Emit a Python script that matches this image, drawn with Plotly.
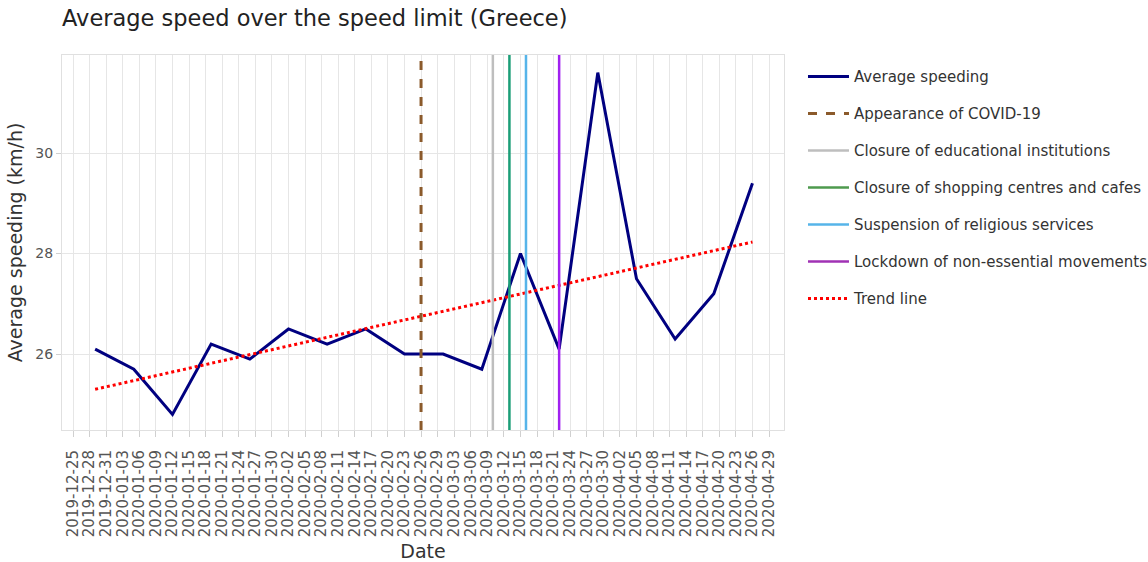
import plotly.graph_objects as go

# ---- data ----
dates = ["2019-12-29", "2020-01-05", "2020-01-12", "2020-01-19", "2020-01-26",
         "2020-02-02", "2020-02-09", "2020-02-16", "2020-02-23", "2020-03-01",
         "2020-03-08", "2020-03-15", "2020-03-22", "2020-03-29", "2020-04-05",
         "2020-04-12", "2020-04-19", "2020-04-26"]
avg_speeding = [26.1, 25.7, 24.8, 26.2, 25.9, 26.5, 26.2, 26.5, 26.0, 26.0,
                25.7, 28.0, 26.1, 31.6, 27.5, 26.3, 27.2, 29.4]

trend_dates = ["2019-12-29", "2020-04-26"]
trend_values = [25.3, 28.23]

event_names = ["Appearance of COVID-19", "Closure of educational institutions",
               "Closure of shopping centres and cafes", "Suspension of religious services",
               "Lockdown of non-essential movements"]
event_dates = ["2020-02-26", "2020-03-10", "2020-03-13", "2020-03-16", "2020-03-22"]
event_colors = ["#8B5A2B", "#BEBEBE", "#1B9E77", "#56B4E9", "#A020F0"]
legend_colors = ["#8B5A2B", "#BEBEBE", "#4E9A4E", "#56B4E9", "#A032B4"]
event_dash = ["dash", "solid", "solid", "solid", "solid"]
event_width = [3, 2.5, 2.5, 2.5, 2.5]

FONT = "DejaVu Sans"

fig = go.Figure()
fig.add_trace(go.Scatter(x=dates, y=avg_speeding, mode="lines", name="Average speeding",
                         line=dict(color="#000080", width=3), legendgroup="a"))

for i, (nm, d, c, lc, ds, w) in enumerate(zip(event_names, event_dates, event_colors,
                                               legend_colors, event_dash, event_width)):
    fig.add_shape(type="line", xref="x", yref="paper", x0=d, x1=d, y0=0, y1=1,
                  line=dict(color=c, width=w, dash=ds), layer="above")
    fig.add_trace(go.Scatter(x=[None], y=[None], mode="lines", name=nm,
                             line=dict(color=lc, width=w, dash=ds), legendgroup=f"e{i}"))

fig.add_trace(go.Scatter(x=trend_dates, y=trend_values, mode="lines", name="Trend line",
                         line=dict(color="#FF0000", width=3, dash="dot"), legendgroup="t"))

fig.update_layout(
    width=1148, height=562, autosize=False,
    paper_bgcolor="white", plot_bgcolor="white",
    font=dict(family=FONT, color="#333333"),
    margin=dict(l=62, r=364, t=55, b=132, autoexpand=False),
    title=dict(text="Average speed over the speed limit (Greece)", x=0, xref="paper",
               xanchor="left", y=0.968, yref="container", yanchor="middle",
               font=dict(size=22.5, color="#222222", family=FONT)),
    legend=dict(x=1.0263, y=0.986, xanchor="left", yanchor="top", traceorder="grouped",
                tracegroupgap=14.5, itemwidth=41,
                font=dict(size=15, color="#333333", family=FONT),
                bgcolor="rgba(0,0,0,0)"),
    showlegend=True,
)
fig.update_xaxes(
    type="date", range=["2019-12-23", "2020-05-01 17:00"], automargin=False,
    tick0="2019-12-25", dtick=3 * 86400000, tickformat="%Y-%m-%d", tickangle=-90,
    showgrid=True, gridcolor="#E6E6E6", gridwidth=1,
    showline=True, linecolor="#E0E0E0", linewidth=1, mirror=True,
    ticks="outside", ticklen=6, tickcolor="#D0D0D0", ticklabelstandoff=7,
    tickfont=dict(size=15, color="#555555", family=FONT),
    title=dict(text="Date", font=dict(size=19, color="#333333", family=FONT), standoff=10),
    zeroline=False,
)
fig.update_yaxes(
    range=[24.49, 31.95], tickvals=[26, 28, 30], automargin=False,
    showgrid=True, gridcolor="#E6E6E6", gridwidth=1,
    showline=True, linecolor="#E0E0E0", linewidth=1, mirror=True,
    ticks="outside", ticklen=5, tickcolor="#D0D0D0",
    tickfont=dict(size=14, color="#555555", family=FONT),
    title=dict(text="Average speeding (km/h)", font=dict(size=19, color="#333333", family=FONT),
               standoff=7),
    zeroline=False,
)

fig.write_html("out.html", config={"displayModeBar": False},
               post_script="document.body.style.margin='0px';")
